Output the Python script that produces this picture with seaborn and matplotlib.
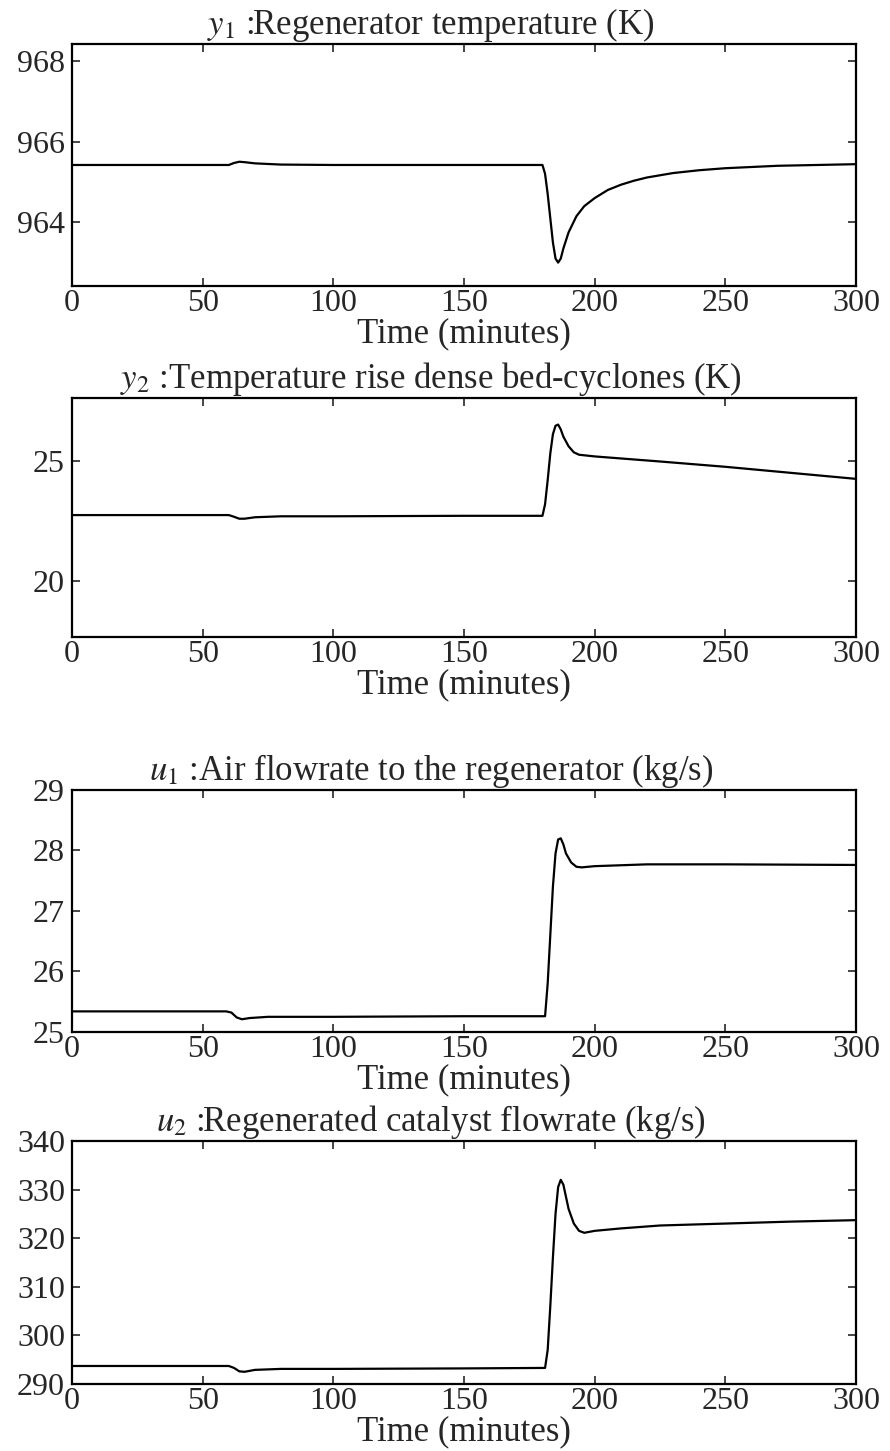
import numpy as np
import pandas as pd
import matplotlib
matplotlib.use("Agg")
import matplotlib.pyplot as plt
import seaborn as sns

# --- data (time in minutes) ---
t_y1 = [0, 60, 62, 64, 66, 70, 80, 100, 150, 180, 181, 182, 183, 184, 185, 186,
        187, 188, 190, 193, 196, 200, 205, 210, 215, 220, 230, 240, 250, 270, 300]
y1 = [965.42, 965.42, 965.47, 965.50, 965.49, 965.46, 965.43, 965.42, 965.42,
      965.42, 965.20, 964.70, 964.10, 963.50, 963.10, 963.00, 963.10, 963.35,
      963.75, 964.15, 964.40, 964.60, 964.80, 964.93, 965.03, 965.11, 965.22,
      965.29, 965.34, 965.40, 965.44]

t_y2 = [0, 60, 62, 64, 66, 70, 80, 100, 150, 180, 181, 182, 183, 184, 185, 186,
        187, 188, 190, 192, 194, 200, 225, 250, 275, 300]
y2 = [22.75, 22.75, 22.68, 22.60, 22.60, 22.66, 22.70, 22.70, 22.72, 22.72,
      23.2, 24.2, 25.3, 26.1, 26.45, 26.5, 26.3, 26.0, 25.6, 25.35, 25.25,
      25.18, 24.97, 24.75, 24.5, 24.25]

t_u1 = [0, 59, 61, 63, 65, 68, 75, 100, 150, 181, 182, 183, 184, 185, 186, 187,
        188, 189, 191, 193, 195, 200, 220, 250, 300]
u1 = [25.34, 25.34, 25.32, 25.24, 25.21, 25.23, 25.25, 25.25, 25.26, 25.26,
      25.8, 26.6, 27.4, 27.95, 28.18, 28.2, 28.1, 27.95, 27.8, 27.73, 27.72,
      27.74, 27.77, 27.77, 27.76]

t_u2 = [0, 60, 62, 64, 66, 70, 80, 100, 150, 181, 182, 183, 184, 185, 186, 187,
        188, 189, 190, 192, 194, 196, 200, 210, 225, 250, 275, 300]
u2 = [293.7, 293.7, 293.3, 292.6, 292.5, 292.9, 293.1, 293.1, 293.2, 293.3,
      297.0, 306.0, 316.0, 325.0, 330.5, 332.0, 331.0, 328.5, 326.0, 323.0,
      321.5, 321.1, 321.5, 322.0, 322.6, 323.0, 323.4, 323.7]

titles = [r"$y_1$ :Regenerator temperature (K)",
          r"$y_2$ :Temperature rise dense bed-cyclones (K)",
          r"$u_1$ :Air flowrate to the regenerator (kg/s)",
          r"$u_2$ :Regenerated catalyst flowrate (kg/s)"]
yticks = [[964, 966, 968], [20, 25], [25, 26, 27, 28, 29],
          [290, 300, 310, 320, 330, 340]]
ylims = [(962.42, 968.42), (17.7, 27.6), (25, 29), (290, 340)]
xticks = [0, 50, 100, 150, 200, 250, 300]

sns.set_style("ticks")
plt.rcParams["font.family"] = ["Liberation Serif", "DejaVu Serif"]
plt.rcParams["mathtext.fontset"] = "stix"
plt.rcParams["xtick.direction"] = "in"
plt.rcParams["ytick.direction"] = "in"
plt.rcParams["xtick.top"] = True
plt.rcParams["ytick.right"] = True

fig = plt.figure(figsize=(8.9, 14.51), dpi=100)

# axes boxes in figure fraction: [left, bottom, width, height]
boxes = [[0.0809, 0.8029, 0.881, 0.1668],
         [0.0809, 0.5610, 0.881, 0.1647],
         [0.0809, 0.2888, 0.881, 0.1668],
         [0.0809, 0.0462, 0.881, 0.1675]]

series = [(t_y1, y1), (t_y2, y2), (t_u1, u1), (t_u2, u2)]

for i, (box, (t, v)) in enumerate(zip(boxes, series)):
    ax = fig.add_axes(box)
    df = pd.DataFrame({"t": t, "v": v})
    sns.lineplot(data=df, x="t", y="v", ax=ax, color="black", lw=1.6,
                 estimator=None)
    ax.set_xlim(0, 300)
    ax.set_ylim(*ylims[i])
    ax.set_xticks(xticks)
    ax.set_yticks(yticks[i])
    ax.tick_params(axis="both", labelsize=23, length=6, width=1.2)
    ax.tick_params(axis="x", pad=2)
    ax.tick_params(axis="y", pad=5)
    ax.set_ylabel("")
    ax.set_xlabel("Time (minutes)", fontsize=25, labelpad=0)
    for s in ax.spines.values():
        s.set_linewidth(1.6)
        s.set_color("black")
    ax.text(0.458, 1.0, titles[i], transform=ax.transAxes, ha="center",
            va="bottom", fontsize=25)

fig.savefig("out.png", dpi=100, facecolor="white")
